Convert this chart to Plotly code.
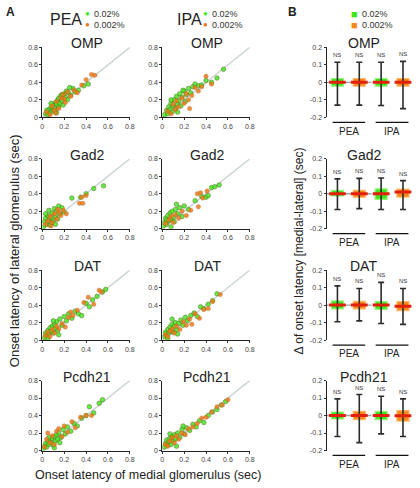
import plotly.graph_objects as go

W, H = 420, 488

genes = ["OMP", "Gad2", "DAT", "Pcdh21"]
odors = ["PEA", "IPA"]
conc_labels = ["0.02%", "0.002%"]
scatter_ticks = [0, 0.2, 0.4, 0.6, 0.8]
scatter_ticktext = ["0", "0.2", "0.4", "0.6", "0.8"]
box_ticks = [-0.2, -0.1, 0, 0.1, 0.2]
box_ticktext = ["-0.2", "-0.1", "0", "0.1", "0.2"]

# ---- scatter data (medial, lateral) ----
omp_pea_g_x = [0.03,0.05,0.06,0.07,0.08,0.09,0.10,0.10,0.11,0.12,0.12,0.13,0.14,0.15,0.15,0.16,0.17,0.18,0.19,0.20,0.21,0.22,0.23,0.24,0.26,0.28,0.30,0.33,0.38,0.42,0.04,0.08,0.13,0.18,0.25]
omp_pea_g_y = [0.04,0.03,0.09,0.05,0.12,0.07,0.14,0.09,0.11,0.17,0.08,0.15,0.20,0.12,0.22,0.16,0.25,0.19,0.14,0.27,0.23,0.30,0.20,0.28,0.25,0.33,0.29,0.31,0.36,0.38,0.08,0.16,0.05,0.26,0.34]
omp_pea_o_x = [0.04,0.07,0.09,0.11,0.13,0.15,0.17,0.19,0.21,0.23,0.26,0.29,0.32,0.36,0.40,0.45,0.48,0.12,0.20]
omp_pea_o_y = [0.06,0.03,0.13,0.08,0.18,0.10,0.22,0.26,0.17,0.29,0.24,0.31,0.28,0.37,0.43,0.49,0.48,0.05,0.21]

omp_ipa_g_x = [0.02,0.04,0.05,0.06,0.07,0.08,0.09,0.10,0.11,0.12,0.13,0.14,0.15,0.16,0.17,0.18,0.20,0.21,0.22,0.24,0.26,0.28,0.30,0.33,0.36,0.40,0.45,0.50,0.56,0.08,0.14,0.19]
omp_ipa_g_y = [0.03,0.08,0.04,0.12,0.09,0.16,0.06,0.13,0.20,0.10,0.24,0.15,0.19,0.27,0.13,0.23,0.30,0.18,0.26,0.33,0.28,0.35,0.38,0.36,0.37,0.42,0.40,0.45,0.55,0.20,0.06,0.31]
omp_ipa_o_x = [0.05,0.08,0.10,0.12,0.15,0.18,0.20,0.22,0.24,0.27,0.30,0.33,0.36,0.40,0.45,0.13,0.25]
omp_ipa_o_y = [0.07,0.04,0.15,0.09,0.12,0.22,0.16,0.27,0.20,0.25,0.34,0.30,0.35,0.47,0.38,0.19,0.10]

gad2_pea_g_x = [0.01,0.02,0.03,0.04,0.05,0.06,0.07,0.08,0.09,0.10,0.11,0.12,0.13,0.14,0.16,0.18,0.20,0.27,0.35,0.40,0.47,0.56,0.03,0.06,0.09,0.12,0.15]
gad2_pea_g_y = [0.02,0.08,0.12,0.05,0.15,0.10,0.04,0.13,0.18,0.09,0.23,0.14,0.20,0.11,0.17,0.24,0.19,0.35,0.36,0.40,0.46,0.49,0.17,0.21,0.07,0.05,0.26]
gad2_pea_o_x = [0.03,0.05,0.07,0.09,0.11,0.13,0.15,0.17,0.19,0.22,0.34,0.36,0.37,0.40,0.08,0.14]
gad2_pea_o_y = [0.05,0.09,0.14,0.07,0.17,0.11,0.19,0.15,0.21,0.17,0.29,0.36,0.29,0.38,0.03,0.22]

gad2_ipa_g_x = [0.01,0.02,0.03,0.04,0.05,0.06,0.07,0.08,0.09,0.10,0.11,0.12,0.14,0.16,0.18,0.20,0.24,0.30,0.36,0.40,0.42,0.45,0.48,0.52,0.04,0.08,0.13]
gad2_ipa_g_y = [0.03,0.07,0.12,0.05,0.15,0.09,0.18,0.11,0.20,0.13,0.08,0.22,0.17,0.24,0.14,0.26,0.22,0.32,0.37,0.36,0.38,0.47,0.48,0.50,0.10,0.02,0.28]
gad2_ipa_o_x = [0.03,0.06,0.08,0.10,0.12,0.15,0.18,0.22,0.26,0.32,0.33,0.35,0.37,0.41]
gad2_ipa_o_y = [0.06,0.10,0.14,0.07,0.16,0.12,0.20,0.15,0.21,0.40,0.25,0.41,0.35,0.43]

dat_pea_g_x = [0.02,0.03,0.04,0.05,0.06,0.07,0.08,0.09,0.10,0.11,0.12,0.13,0.14,0.16,0.18,0.20,0.22,0.24,0.27,0.30,0.33,0.36,0.40,0.43,0.46,0.50,0.55,0.58,0.05,0.10,0.15]
dat_pea_g_y = [0.03,0.08,0.05,0.11,0.07,0.14,0.10,0.16,0.08,0.18,0.13,0.21,0.11,0.24,0.17,0.27,0.22,0.30,0.25,0.33,0.30,0.28,0.42,0.38,0.46,0.50,0.55,0.58,0.02,0.22,0.06]
dat_pea_o_x = [0.03,0.05,0.07,0.09,0.11,0.13,0.15,0.18,0.21,0.24,0.26,0.28,0.32,0.38,0.42,0.47,0.52,0.54]
dat_pea_o_y = [0.05,0.09,0.04,0.12,0.08,0.16,0.13,0.19,0.15,0.26,0.32,0.28,0.34,0.43,0.49,0.41,0.57,0.55]

dat_ipa_g_x = [0.02,0.03,0.04,0.05,0.06,0.07,0.08,0.09,0.10,0.11,0.12,0.13,0.15,0.17,0.19,0.21,0.23,0.26,0.29,0.32,0.35,0.38,0.42,0.46,0.50,0.05,0.09,0.14]
dat_ipa_g_y = [0.04,0.09,0.06,0.12,0.08,0.15,0.11,0.18,0.09,0.16,0.20,0.12,0.19,0.23,0.17,0.26,0.22,0.28,0.31,0.27,0.38,0.36,0.41,0.45,0.53,0.02,0.24,0.07]
dat_ipa_o_x = [0.03,0.05,0.07,0.09,0.11,0.13,0.16,0.19,0.22,0.25,0.27,0.30,0.34,0.38,0.42,0.46,0.53]
dat_ipa_o_y = [0.06,0.04,0.10,0.13,0.08,0.16,0.12,0.21,0.17,0.24,0.18,0.30,0.25,0.35,0.36,0.44,0.52]

pcdh_pea_g_x = [0.01,0.02,0.03,0.04,0.05,0.06,0.07,0.08,0.09,0.10,0.11,0.12,0.13,0.14,0.15,0.17,0.19,0.21,0.23,0.26,0.29,0.32,0.36,0.40,0.43,0.47,0.52,0.55,0.06,0.11,0.16]
pcdh_pea_g_y = [0.02,0.05,0.08,0.04,0.10,0.07,0.12,0.09,0.14,0.06,0.16,0.11,0.18,0.13,0.20,0.15,0.24,0.19,0.27,0.22,0.31,0.28,0.37,0.40,0.50,0.43,0.54,0.58,0.15,0.03,0.09]
pcdh_pea_o_x = [0.02,0.04,0.05,0.07,0.09,0.11,0.13,0.15,0.18,0.20,0.23,0.27,0.30,0.35,0.40,0.45]
pcdh_pea_o_y = [0.04,0.13,0.20,0.09,0.17,0.07,0.22,0.25,0.16,0.28,0.21,0.33,0.26,0.38,0.40,0.40]

pcdh_ipa_g_x = [0.02,0.03,0.04,0.05,0.06,0.07,0.08,0.09,0.10,0.11,0.12,0.14,0.16,0.18,0.20,0.22,0.25,0.28,0.31,0.34,0.38,0.42,0.46,0.50,0.54,0.58,0.07,0.13,0.19]
pcdh_ipa_g_y = [0.04,0.08,0.12,0.06,0.10,0.14,0.07,0.16,0.11,0.18,0.13,0.20,0.15,0.24,0.19,0.26,0.23,0.30,0.27,0.34,0.32,0.40,0.44,0.47,0.52,0.56,0.19,0.05,0.28]
pcdh_ipa_o_x = [0.03,0.05,0.07,0.09,0.11,0.13,0.15,0.18,0.21,0.24,0.28,0.32,0.36,0.40,0.45,0.50,0.55,0.60]
pcdh_ipa_o_y = [0.07,0.05,0.11,0.15,0.09,0.17,0.13,0.20,0.18,0.25,0.27,0.31,0.37,0.38,0.44,0.50,0.52,0.58]

scatter_sets = [
    [(omp_pea_g_x, omp_pea_g_y, omp_pea_o_x, omp_pea_o_y), (omp_ipa_g_x, omp_ipa_g_y, omp_ipa_o_x, omp_ipa_o_y)],
    [(gad2_pea_g_x, gad2_pea_g_y, gad2_pea_o_x, gad2_pea_o_y), (gad2_ipa_g_x, gad2_ipa_g_y, gad2_ipa_o_x, gad2_ipa_o_y)],
    [(dat_pea_g_x, dat_pea_g_y, dat_pea_o_x, dat_pea_o_y), (dat_ipa_g_x, dat_ipa_g_y, dat_ipa_o_x, dat_ipa_o_y)],
    [(pcdh_pea_g_x, pcdh_pea_g_y, pcdh_pea_o_x, pcdh_pea_o_y), (pcdh_ipa_g_x, pcdh_ipa_g_y, pcdh_ipa_o_x, pcdh_ipa_o_y)],
]

# ---- box data: groups = PEA 0.02%, PEA 0.002%, IPA 0.02%, IPA 0.002% ----
box_positions = [1, 2, 3, 4]
whisker_lo = [[-0.130, -0.130, -0.132, -0.150],
              [-0.090, -0.085, -0.090, -0.090],
              [-0.095, -0.090, -0.105, -0.110],
              [-0.120, -0.155, -0.105, -0.120]]
box_q1 = [[-0.022, -0.022, -0.022, -0.022],
          [-0.013, -0.020, -0.032, -0.019],
          [-0.022, -0.022, -0.024, -0.032],
          [-0.020, -0.024, -0.024, -0.032]]
box_med = [[0.0, 0.0, 0.0, 0.0],
           [0.0, 0.0, 0.0, 0.010],
           [0.0, 0.0, 0.0, -0.006],
           [0.0, 0.0, 0.0, -0.002]]
box_q3 = [[0.022, 0.022, 0.022, 0.022],
          [0.019, 0.020, 0.028, 0.026],
          [0.024, 0.022, 0.020, 0.020],
          [0.020, 0.024, 0.024, 0.028]]
whisker_hi = [[0.115, 0.115, 0.115, 0.120],
              [0.085, 0.088, 0.090, 0.075],
              [0.110, 0.095, 0.130, 0.095],
              [0.095, 0.120, 0.110, 0.095]]
sig_labels = ["NS", "NS", "NS", "NS"]

# ---- styling ----
GREEN = "#45ec24"
ORANGE = "#ec7a1c"
GREEN_BOX = "#3fe41c"
GREEN_EDGE = "#9af27e"
ORANGE_BOX = "#f58a1c"
ORANGE_EDGE = "#ffb466"
MEDIAN_RED = "#e3200c"
TXT = "#222222"
FONT = "Liberation Sans, Arial, sans-serif"


def px(x):
    return x / W


def py(y):
    return 1 - y / H


row_px = [(44, 115), (157, 228), (270, 341), (382, 453)]
col_px = [(41, 130), (163, 252)]
box_col_px = (330, 420)

fig = go.Figure()
layout = {}
annotations = []
shapes = []


def axname(n, kind):
    return kind if n == 1 else f"{kind}{n}"


n = 0
for r, gene in enumerate(genes):
    for c in range(2):
        n += 1
        xa, ya = axname(n, "xaxis"), axname(n, "yaxis")
        xr, yr = ("x" if n == 1 else f"x{n}"), ("y" if n == 1 else f"y{n}")
        gx, gy, ox, oy = scatter_sets[r][c]
        fig.add_trace(go.Scatter(x=[0, 0.8], y=[0, 0.8], mode="lines",
                                 line=dict(color="#c9d3d3", width=1.4),
                                 xaxis=xr, yaxis=yr, showlegend=False, hoverinfo="skip"))
        fig.add_trace(go.Scatter(x=gx, y=gy, mode="markers",
                                 marker=dict(color=GREEN, size=4.5, opacity=0.85,
                                             line=dict(color="#557a1e", width=0.7)),
                                 xaxis=xr, yaxis=yr, showlegend=False))
        fig.add_trace(go.Scatter(x=ox, y=oy, mode="markers",
                                 marker=dict(color=ORANGE, size=4.5, opacity=0.85,
                                             line=dict(color="#a0601a", width=0.3)),
                                 xaxis=xr, yaxis=yr, showlegend=False))
        x0, x1 = col_px[c]
        y0, y1 = row_px[r]
        layout[xa] = dict(domain=[px(x0), px(x1)], range=[0, 0.8], anchor=yr,
                          tickvals=scatter_ticks, ticktext=scatter_ticktext,
                          ticks="outside", ticklen=2, tickcolor="#333",
                          showline=True, linecolor="#222", linewidth=1,
                          showgrid=False, zeroline=False,
                          tickfont=dict(size=7, color="#444", family=FONT))
        layout[ya] = dict(domain=[py(y1), py(y0)], range=[0, 0.8], anchor=xr,
                          tickvals=scatter_ticks, ticktext=scatter_ticktext,
                          ticks="outside", ticklen=2, tickcolor="#333",
                          showline=True, linecolor="#222", linewidth=1,
                          showgrid=False, zeroline=False,
                          tickfont=dict(size=7, color="#444", family=FONT))
        annotations.append(dict(text=gene, x=px((x0 + x1) / 2 + 1), y=py(y0 - 4),
                                xref="paper", yref="paper", showarrow=False,
                                xanchor="center", yanchor="middle",
                                font=dict(size=14, color=TXT, family=FONT)))

# ---- box plots ----
for r, gene in enumerate(genes):
    n += 1
    xa, ya = axname(n, "xaxis"), axname(n, "yaxis")
    xr, yr = f"x{n}", f"y{n}"
    med = box_med[r]
    lo = whisker_lo[r]
    hi = whisker_hi[r]
    q1 = box_q1[r]
    q3 = box_q3[r]
    fig.add_trace(go.Scatter(
        x=box_positions, y=med, mode="markers", marker=dict(size=1, opacity=0),
        error_y=dict(type="data", symmetric=False,
                     array=[h - m for h, m in zip(hi, med)],
                     arrayminus=[m - l for m, l in zip(med, lo)],
                     color="#2b2b2b", thickness=1.6, width=3),
        xaxis=xr, yaxis=yr, showlegend=False, hoverinfo="skip"))
    fig.add_trace(go.Bar(
        x=box_positions, y=[b - a for a, b in zip(q1, q3)], base=q1, width=0.55,
        marker=dict(color=[GREEN_BOX, ORANGE_BOX, GREEN_BOX, ORANGE_BOX],
                    line=dict(color=[GREEN_EDGE, ORANGE_EDGE, GREEN_EDGE, ORANGE_EDGE], width=1.2)),
        xaxis=xr, yaxis=yr, showlegend=False, hoverinfo="skip"))
    fig.add_trace(go.Scatter(
        x=box_positions, y=med, mode="markers",
        marker=dict(symbol="line-ew", size=12, line=dict(color=MEDIAN_RED, width=3)),
        xaxis=xr, yaxis=yr, showlegend=False, hoverinfo="skip"))
    y0, y1 = row_px[r]
    layout[xa] = dict(domain=[px(box_col_px[0]), px(box_col_px[1])], range=[0.5, 4.55],
                      anchor=yr, showticklabels=False, ticks="",
                      showline=False, showgrid=False, zeroline=False)
    layout[ya] = dict(domain=[py(y1), py(y0)], range=[-0.2, 0.2], anchor=xr,
                      tickvals=box_ticks, ticktext=box_ticktext,
                      ticks="outside", ticklen=2, tickcolor="#333",
                      showline=True, linecolor="#222", linewidth=1,
                      showgrid=False, zeroline=False,
                      tickfont=dict(size=7, color="#444", family=FONT))
    shapes.append(dict(type="line", xref=f"{xr} domain", yref=yr, x0=0, x1=1, y0=0, y1=0,
                       line=dict(color="#9aa0a0", width=1.4, dash="dash"), layer="below"))
    for p, h, s in zip(box_positions, hi, sig_labels):
        annotations.append(dict(text=s, x=p, y=h, xref=xr, yref=yr, showarrow=False,
                                yanchor="bottom", yshift=2,
                                font=dict(size=6, color="#333", family=FONT)))
    for k, od in enumerate(odors):
        xa0, xa1 = (0.78, 2.27) if k == 0 else (2.75, 4.25)
        shapes.append(dict(type="line", xref=xr, yref="paper", x0=xa0, x1=xa1,
                           y0=py(y1 + 5), y1=py(y1 + 5), line=dict(color="#111", width=1.3)))
        annotations.append(dict(text=od, x=(xa0 + xa1) / 2, y=py(y1 + 14), xref=xr, yref="paper",
                                showarrow=False, xanchor="center", yanchor="middle",
                                font=dict(size=10, color=TXT, family=FONT)))
    annotations.append(dict(text=gene, x=px(368), y=py(y0 - 4), xref="paper", yref="paper",
                            showarrow=False, xanchor="center", yanchor="middle",
                            font=dict(size=14, color=TXT, family=FONT)))

# ---- headers, legends, labels ----
def ann(text, x, y, size, color=TXT, xanchor="center", bold=False, angle=0):
    annotations.append(dict(text=f"<b>{text}</b>" if bold else text, x=px(x), y=py(y),
                            xref="paper", yref="paper", showarrow=False,
                            xanchor=xanchor, yanchor="middle", textangle=angle,
                            font=dict(size=size, color=color, family=FONT)))


ann("A", 2, 8, 12, xanchor="left", bold=True)
ann("B", 289, 8, 12, xanchor="left", bold=True)
ann(odors[0], 65, 16, 16)
ann(odors[1], 191, 16, 16)
for lx in (87, 207):
    ann("●", lx, 10, 8, color=GREEN)
    ann("●", lx, 21, 8, color=ORANGE)
    ann(conc_labels[0], lx + 5, 10, 9, color="#333", xanchor="left")
    ann(conc_labels[1], lx + 5, 21, 9, color="#333", xanchor="left")
ann("■", 358, 10, 11, color=GREEN_BOX)
ann("■", 358, 21, 11, color=ORANGE_BOX)
ann(conc_labels[0], 364, 10, 9, color="#333", xanchor="left")
ann(conc_labels[1], 364, 21, 9, color="#333", xanchor="left")
ann("Onset latency of lateral glomerulus (sec)", 13, 250, 13, angle=-90)
ann("Onset latency of medial glomerulus (sec)", 148, 478, 12.5)
ann("Δ of onset latency [medial-lateral] (sec)", 302, 250, 12, angle=-90)

fig.update_layout(
    width=W, height=H, margin=dict(l=0, r=0, t=0, b=0),
    paper_bgcolor="white", plot_bgcolor="white", hovermode=False,
    annotations=annotations, shapes=shapes, showlegend=False,
    font=dict(family=FONT), **layout)

fig.write_html("out.html", config={"displayModeBar": False, "staticPlot": True},
               post_script="document.body.style.margin='0';document.body.style.padding='0';")
